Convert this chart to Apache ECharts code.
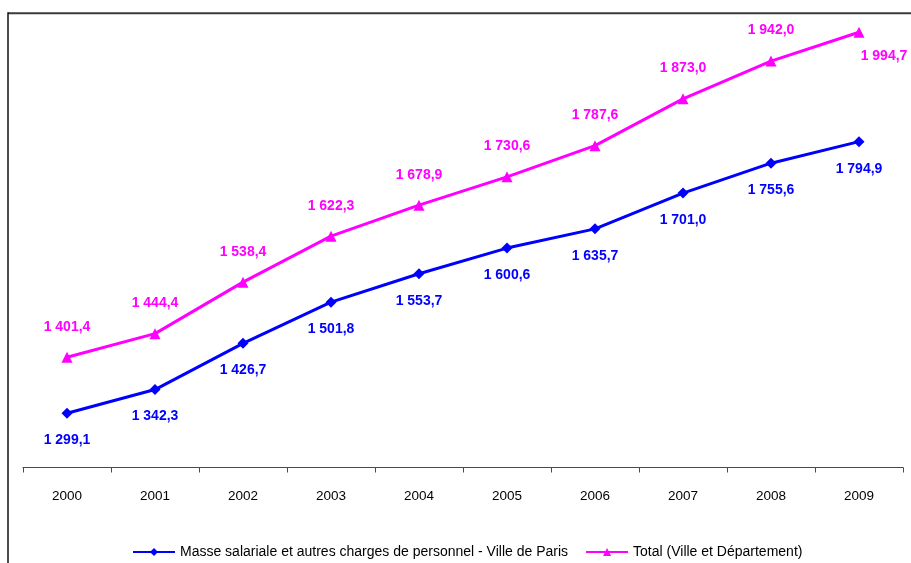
<!DOCTYPE html>
<html>
<head>
<meta charset="utf-8">
<script src="https://cdn.jsdelivr.net/npm/echarts@6/dist/echarts.min.js"></script>
<style>
  html, body { margin: 0; padding: 0; background: #fff; }
  #chart { width: 911px; height: 563px; }
</style>
</head>
<body>
<div id="chart"></div>
<script>
// Personnel spending, Ville de Paris, in millions of euros
const years = ['2000', '2001', '2002', '2003', '2004', '2005', '2006', '2007', '2008', '2009'];
const masseSalariale = [1299.1, 1342.3, 1426.7, 1501.8, 1553.7, 1600.6, 1635.7, 1701.0, 1755.6, 1794.9];
const totalVilleDept = [1401.4, 1444.4, 1538.4, 1622.3, 1678.9, 1730.6, 1787.6, 1873.0, 1942.0, 1994.7];
const seriesNames = [
  'Masse salariale et autres charges de personnel - Ville de Paris',
  'Total (Ville et Département)'
];

const FONT = "'Liberation Sans Narrow', 'Arial Narrow', 'Liberation Sans', Arial, sans-serif";
const BLUE = '#0000FF';
const PINK = '#FF00FF';

// French number format: "1 299,1"
function frNum(v) {
  const parts = v.toFixed(1).split('.');
  const intPart = parts[0].replace(/\B(?=(\d{3})+(?!\d))/g, ' ');
  return intPart + ',' + parts[1];
}

// last point of the total series has its label moved below-right
const totalData = totalVilleDept.map(function (v, i) {
  if (i === totalVilleDept.length - 1) {
    return { value: v, label: { position: 'bottom', distance: 11, offset: [25, 0] } };
  }
  return v;
});

const chart = echarts.init(document.getElementById('chart'));
chart.setOption({
  animation: false,
  backgroundColor: '#ffffff',
  grid: { left: 23, right: 8, top: 29.3, bottom: 95.5, containLabel: false },
  xAxis: {
    type: 'category',
    data: years,
    boundaryGap: true,
    axisLine: { show: true, lineStyle: { color: '#4a4a4a', width: 1 } },
    axisTick: { show: true, length: 5, lineStyle: { color: '#4a4a4a' } },
    axisLabel: { color: '#000000', fontFamily: FONT, fontSize: 13.5, margin: 22 },
    splitLine: { show: false }
  },
  yAxis: {
    type: 'value',
    min: 1200,
    max: 2000,
    show: false
  },
  legend: {
    left: 132,
    top: 545,
    padding: 0,
    itemWidth: 42,
    itemHeight: 10,
    itemGap: 17,
    textStyle: { fontFamily: FONT, fontSize: 14, color: '#000000' },
    data: seriesNames
  },
  graphic: [
    { type: 'line', shape: { x1: 8, y1: 13.3, x2: 911, y2: 13.3 }, style: { stroke: '#3a3a3a', lineWidth: 2 } },
    { type: 'line', shape: { x1: 8, y1: 12.3, x2: 8, y2: 563 }, style: { stroke: '#111111', lineWidth: 1.5 } }
  ],
  series: [
    {
      name: seriesNames[0],
      type: 'line',
      data: masseSalariale,
      symbol: 'diamond',
      symbolSize: 11,
      itemStyle: { color: BLUE },
      lineStyle: { color: BLUE, width: 3 },
      label: {
        show: true,
        position: 'bottom',
        distance: 14.5,
        color: BLUE,
        fontFamily: FONT,
        fontSize: 14,
        fontWeight: 'bold',
        formatter: function (p) { return frNum(p.value); }
      }
    },
    {
      name: seriesNames[1],
      type: 'line',
      data: totalData,
      symbol: 'triangle',
      symbolSize: 11,
      itemStyle: { color: PINK },
      lineStyle: { color: PINK, width: 3 },
      label: {
        show: true,
        position: 'top',
        distance: 18,
        color: PINK,
        fontFamily: FONT,
        fontSize: 14,
        fontWeight: 'bold',
        formatter: function (p) { return frNum(p.value); }
      }
    }
  ]
});
</script>
</body>
</html>
